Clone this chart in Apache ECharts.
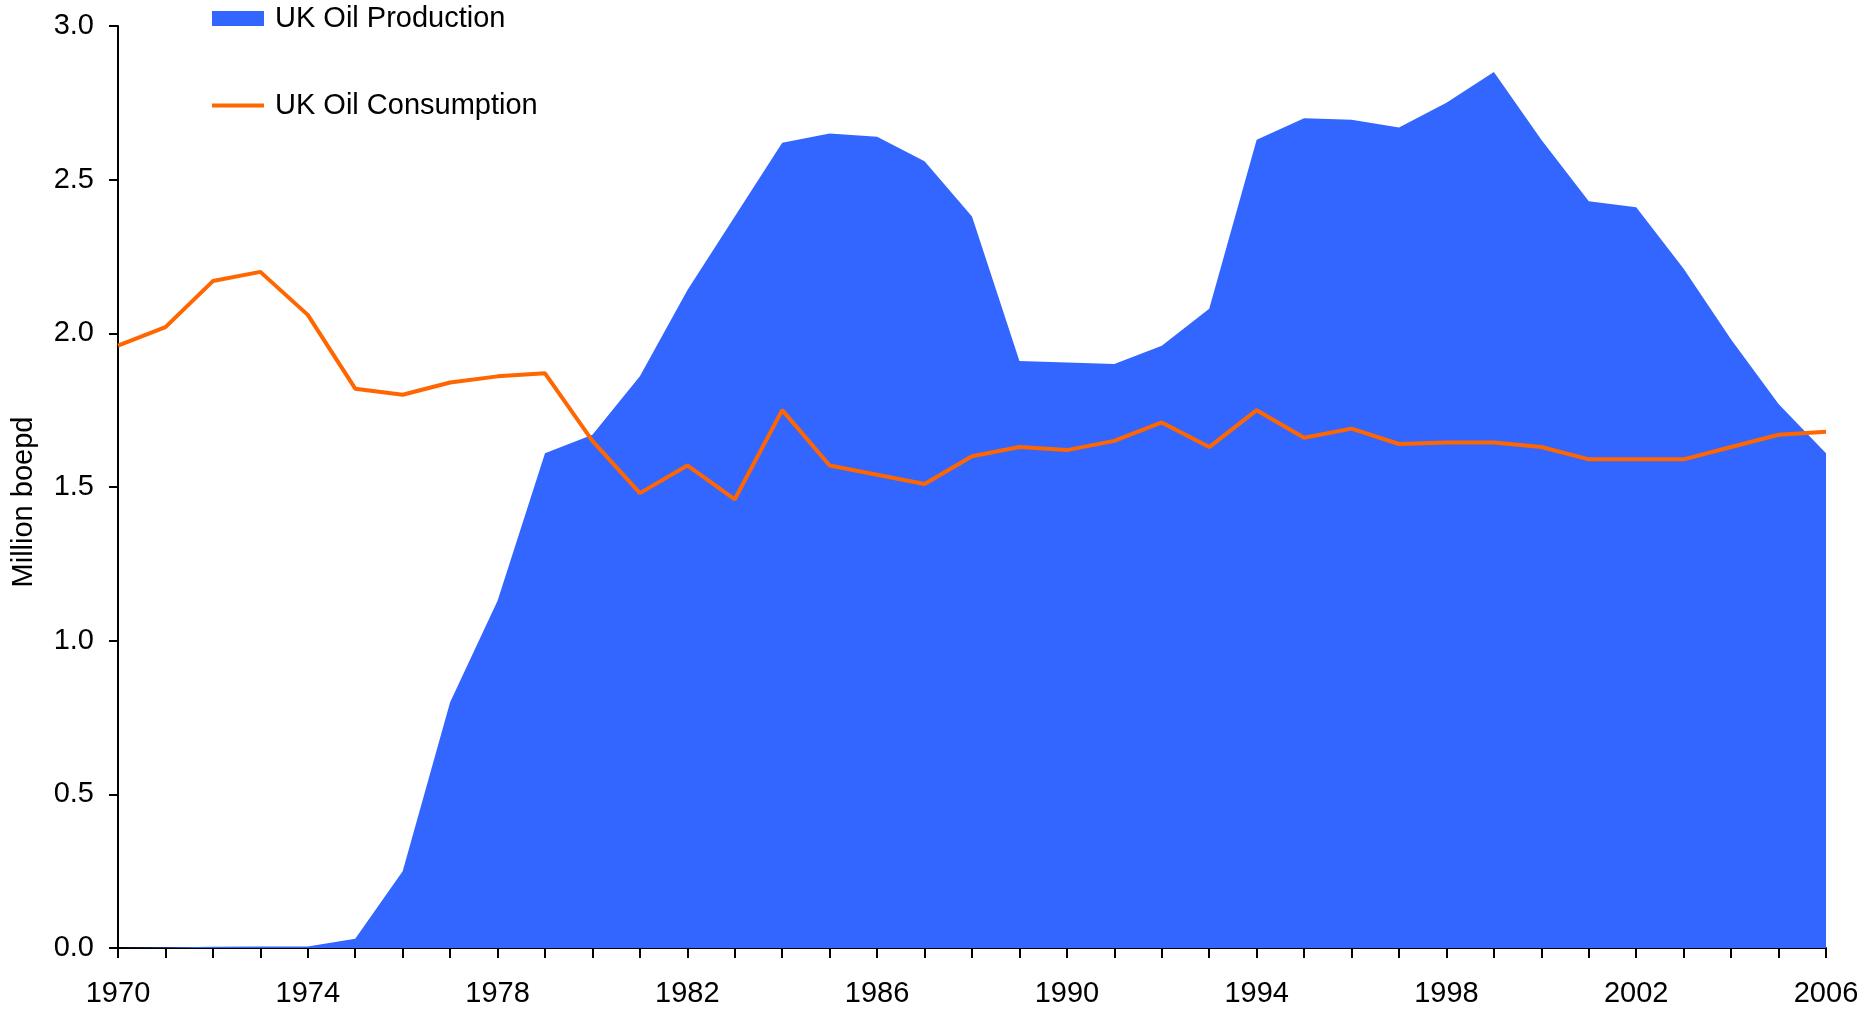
<!DOCTYPE html>
<html>
<head>
<meta charset="utf-8">
<title>UK Oil Production and Consumption</title>
<script src="https://cdn.jsdelivr.net/npm/echarts@6/dist/echarts.min.js"></script>
<style>
  html, body { margin: 0; padding: 0; background: #fff; }
  #main { width: 1870px; height: 1011px; }
</style>
</head>
<body>
<div id="main"></div>
<script type="text/javascript">
// years on the x axis
var years = [];
for (var y = 1970; y <= 2006; y++) { years.push(String(y)); }

// million boepd
var production = [
  0.000, 0.002, 0.004, 0.005, 0.005, 0.03, 0.25, 0.80, 1.13, 1.61,
  1.67, 1.86, 2.14, 2.38, 2.62, 2.65, 2.64, 2.56, 2.38, 1.91,
  1.905, 1.90, 1.96, 2.08, 2.63, 2.70, 2.695, 2.67, 2.75, 2.85,
  2.63, 2.43, 2.41, 2.21, 1.98, 1.77, 1.61
];
var consumption = [
  1.96, 2.02, 2.17, 2.20, 2.06, 1.82, 1.80, 1.84, 1.86, 1.87,
  1.65, 1.48, 1.57, 1.46, 1.75, 1.57, 1.54, 1.51, 1.60, 1.63,
  1.62, 1.65, 1.71, 1.63, 1.75, 1.66, 1.69, 1.64, 1.645, 1.645,
  1.63, 1.59, 1.59, 1.59, 1.63, 1.67, 1.68
];

var FONT = 'Liberation Sans, Arial, sans-serif';
var FS = 29;
var chart = echarts.init(document.getElementById('main'));

var option = {
  backgroundColor: '#fff',
  animation: false,
  textStyle: { fontFamily: FONT, color: '#000' },
  // two legends so each icon can have its own height
  legend: [
    {
      data: [{ name: 'UK Oil Production', icon: 'rect' }],
      orient: 'vertical', left: 212, top: 4, padding: 0,
      itemWidth: 52, itemHeight: 15,
      textStyle: { fontFamily: FONT, fontSize: FS, color: '#000', padding: [0, 0, 0, 6] }
    },
    {
      data: [{ name: 'UK Oil Consumption', icon: 'rect' }],
      orient: 'vertical', left: 212, top: 91, padding: 0,
      itemWidth: 52, itemHeight: 4,
      textStyle: { fontFamily: FONT, fontSize: FS, color: '#000', padding: [0, 0, 0, 6] }
    }
  ],
  grid: { left: 118, right: 44, top: 26, bottom: 63 },
  xAxis: {
    type: 'category',
    data: years,
    boundaryGap: false,
    axisLine: { lineStyle: { color: '#000', width: 2 } },
    axisTick: { interval: 0, length: 10, lineStyle: { color: '#000', width: 2 } },
    axisLabel: { interval: 3, margin: 31, fontSize: FS, color: '#000', fontFamily: FONT },
    splitLine: { show: false }
  },
  yAxis: {
    type: 'value',
    min: 0, max: 3, interval: 0.5,
    name: 'Million boepd',
    nameLocation: 'middle',
    nameRotate: 90,
    nameGap: 80,
    // right padding pushes the rotated title a bit lower, like the original
    nameTextStyle: { fontSize: FS, color: '#000', fontFamily: FONT, padding: [0, 30, 0, 0] },
    axisLine: { show: true, lineStyle: { color: '#000', width: 2 } },
    axisTick: { show: true, length: 9, lineStyle: { color: '#000', width: 2 } },
    axisLabel: {
      margin: 24, fontSize: FS, color: '#000', fontFamily: FONT,
      formatter: function (v) { return v.toFixed(1); }
    },
    splitLine: { show: false }
  },
  series: [
    {
      name: 'UK Oil Production',
      type: 'line',
      data: production,
      symbol: 'none',
      color: '#3366FF',
      lineStyle: { width: 0 },
      areaStyle: { color: '#3366FF', opacity: 1 },
      z: 1
    },
    {
      name: 'UK Oil Consumption',
      type: 'line',
      data: consumption,
      symbol: 'none',
      color: '#FF6600',
      lineStyle: { color: '#FF6600', width: 4 },
      z: 3
    }
  ]
};

chart.setOption(option);
</script>
</body>
</html>
